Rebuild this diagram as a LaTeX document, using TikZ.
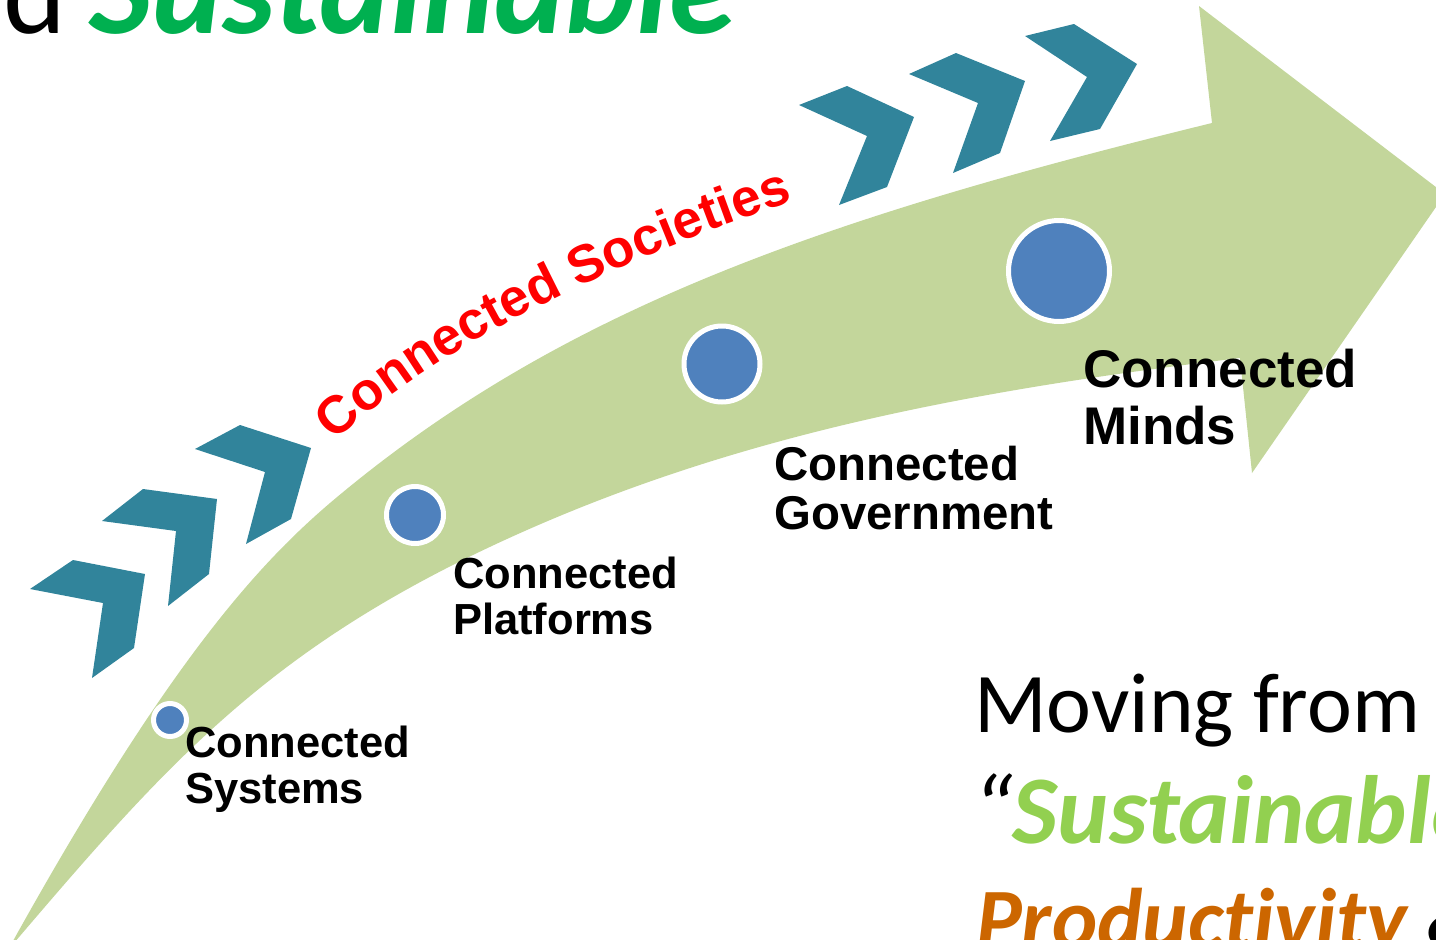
\documentclass[tikz,border=0pt]{standalone}
\usepackage{fontspec}
\setmainfont{Liberation Sans}
\newfontfamily\carlito{Carlito}[Ligatures={NoCommon}]
\usetikzlibrary{decorations.text}
\definecolor{bandgreen}{HTML}{C3D69B}
\definecolor{chevblue}{HTML}{31849B}
\definecolor{dotblue}{HTML}{4F81BD}
\definecolor{titlegreen}{HTML}{00B050}
\definecolor{lightgreen}{HTML}{92D050}
\definecolor{prodorange}{HTML}{CC6600}
\begin{document}
\begin{tikzpicture}[x=1pt,y=-1pt,
  chev/.style={fill=chevblue},
  band/.style={fill=bandgreen},
  dot/.style={circle, fill=dotblue, draw=white, line width=5pt, inner sep=0pt},
  lbl/.style={anchor=north west, inner sep=0pt, align=left},
  txt/.style={anchor=base west, inner sep=0pt}]
\useasboundingbox (0,0) rectangle (1436,940);
\clip (0,0) rectangle (1436,940);

% big curved arrow
\fill[band] (8,950) .. controls (163,670) and (254,568) .. (330,503)
  .. controls (559,309) and (824,218) .. (1212,123)
  -- (1199,6) -- (1445,194) -- (1252,473) -- (1240,358)
  .. controls (992,388) and (756,429) .. (527,530)
  .. controls (271,643) and (170,760) .. (8,950) -- cycle;

% chevrons, lower-left group
\fill[chev] (30,589) -- (73,560) -- (145,574) -- (134,648) -- (92,678) -- (103,603) -- cycle;
\fill[chev] (102,521) -- (143,489) -- (217,499) -- (209,574) -- (168,606) -- (176,531) -- cycle;
\fill[chev] (195,449) -- (240,425) -- (311,448) -- (291,519) -- (246,544) -- (265,472) -- cycle;
% chevrons, upper group
\fill[chev] (799,105) -- (847,86) -- (914,117) -- (887,187) -- (839,205) -- (867,136) -- cycle;
\fill[chev] (909,74) -- (956,53) -- (1025,81) -- (1000,153) -- (953,173) -- (978,103) -- cycle;
\fill[chev] (1025,36) -- (1074,24) -- (1137,64) -- (1100,129) -- (1050,141) -- (1087,77) -- cycle;

% curved red text
\path[decorate, decoration={text along path, text color=red,
  text={|\bfseries\fontsize{53}{53}\selectfont|Connected Societies}, text align=left}]
  (335,442) .. controls (445,336) and (657,245) .. (798,200) -- (900,172);

% dots
\node[dot, minimum size=33pt] (sys) at (170,720) {};
\node[dot, minimum size=57pt] (plat) at (415,515) {};
\node[dot, minimum size=76pt] (gov) at (722,364) {};
\node[dot, minimum size=101pt] (minds) at (1059,271) {};

% labels
\node[lbl, font=\bfseries\fontsize{43.5}{46}\selectfont] (sysl) at (185,726) {Connected\\Systems};
\node[lbl, font=\bfseries\fontsize{43.5}{46}\selectfont] (platl) at (453,557) {Connected\\Platforms};
\node[lbl, font=\bfseries\fontsize{47.4}{49}\selectfont] (govl) at (774,446) {Connected\\Government};
\node[lbl, font=\bfseries\fontsize{53}{57}\selectfont] (mindsl) at (1083,349) {Connected\\Minds};

% title text cut at top
\node[txt, font=\carlito\fontsize{120}{120}\selectfont] (titled) at (3,33) {d};
\node[txt, font=\carlito\bfseries\itshape\fontsize{134.5}{134.5}\selectfont, text=titlegreen] (titles) at (89,33) {Sustainable};

% bottom-right text
\node[txt, font=\carlito\fontsize{85}{85}\selectfont] (mv) at (974,732) {Moving from};
\node[txt, font=\carlito\fontsize{97}{97}\selectfont] (sus) at (972,843)
  {{\itshape “}{\bfseries\itshape\color{lightgreen}Sustainable}};
\node[txt, font=\carlito\fontsize{86}{86}\selectfont] (prod) at (976,948)
  {{\bfseries\itshape\color{prodorange}Productivity} \&};
\end{tikzpicture}
\end{document}
